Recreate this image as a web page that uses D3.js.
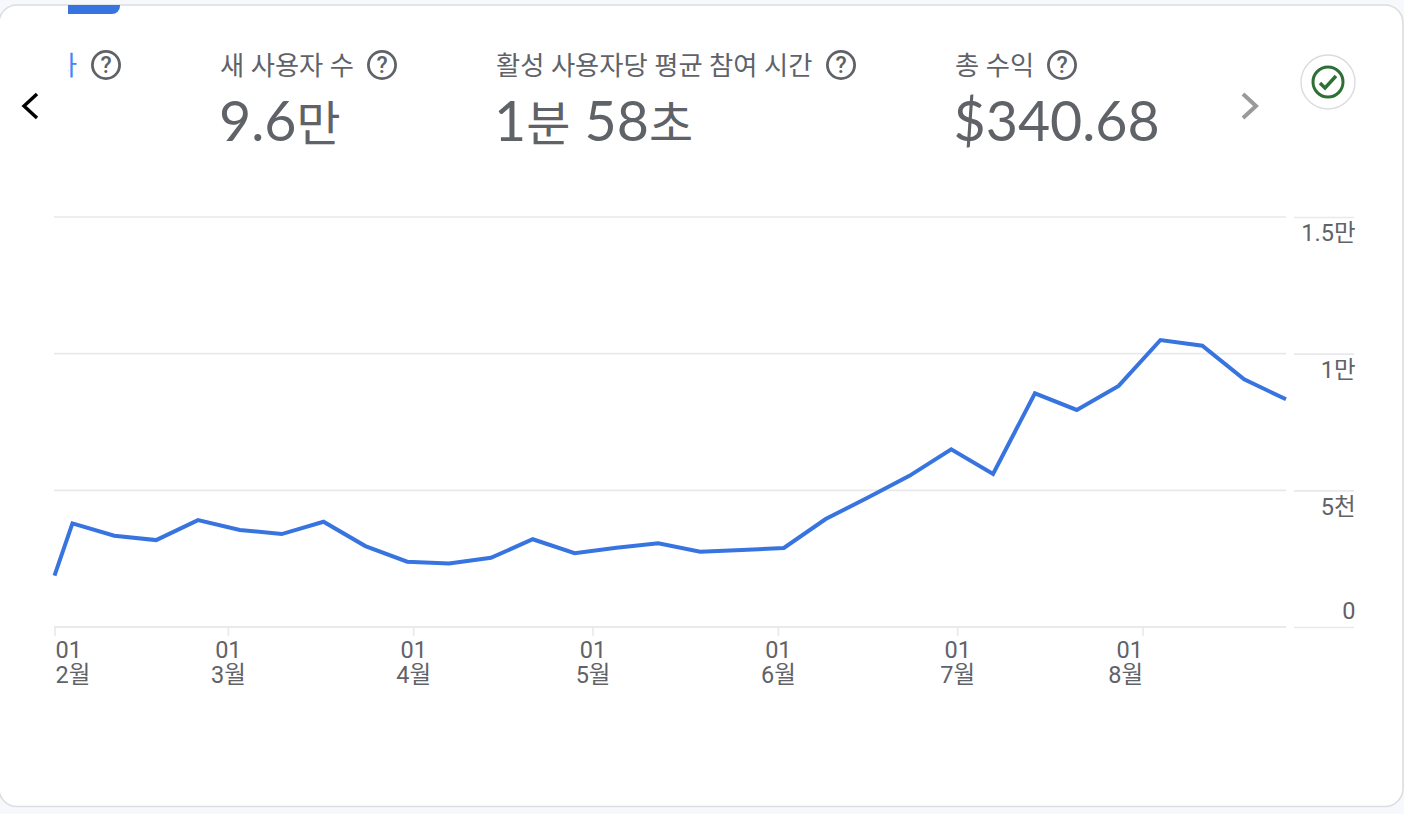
<!DOCTYPE html>
<html lang="ko">
<head>
<meta charset="utf-8">
<script src="https://cdnjs.cloudflare.com/ajax/libs/d3/7.8.5/d3.min.js"></script>
<style>
html,body{margin:0;padding:0;background:#f7f8fb;overflow:hidden}
svg{display:block}
text{font-family:Roboto,"Noto Sans CJK KR",sans-serif;fill:#5f6368}
.metric{font-family:Lato,"Noto Sans CJK KR",sans-serif}
.domain{display:none}
</style>
</head>
<body>
<svg id="c" width="1404" height="814"></svg>
<script>
// ---- data ----
const dates = ["2024-02-01","2024-02-04","2024-02-11","2024-02-18","2024-02-25","2024-03-03","2024-03-10","2024-03-17","2024-03-24","2024-03-31","2024-04-07","2024-04-14","2024-04-21","2024-04-28","2024-05-05","2024-05-12","2024-05-19","2024-05-26","2024-06-02","2024-06-09","2024-06-16","2024-06-23","2024-06-30","2024-07-07","2024-07-14","2024-07-21","2024-07-28","2024-08-04","2024-08-11","2024-08-18","2024-08-25"];
const users = [1880,3790,3340,3180,3910,3550,3400,3850,2960,2390,2320,2530,3210,2700,2900,3060,2750,2820,2890,3950,4730,5530,6500,5600,8550,7940,8820,10500,10290,9060,8330];
const yTickValues = [0,5000,10000,15000];
const yTickLabels = ["0","5천","1만","1.5만"];
const monthStarts = ["2024-02-01","2024-03-01","2024-04-01","2024-05-01","2024-06-01","2024-07-01","2024-08-01"];
const monthLabels = ["2월","3월","4월","5월","6월","7월","8월"];
const metricTitles = ["새 사용자 수","활성 사용자당 평균 참여 시간","총 수익"];
const metricValues = ["9.6만","1분 58초","$340.68"];
const clippedTitle = "활성 사용자";

// ---- layout ----
const svg = d3.select("#c");
const parse = d3.utcParse("%Y-%m-%d");
const x = d3.scaleUtc().domain([parse(dates[0]), parse(dates[dates.length-1])]).range([54.5,1286]);
const y = d3.scaleLinear().domain([0,15000]).range([627,217]);
const grey = "#5f6368", gridCol = "#e8e9eb";

// card
svg.append("rect").attr("x",-1).attr("y",5).attr("width",1404).attr("height",801.5).attr("rx",18)
  .attr("fill","#fff").attr("stroke","#dcdde1").attr("stroke-width",1.6);

// tab indicator
svg.append("path").attr("d","M68 5H120V6A8 8 0 0 1 112 14H68Z").attr("fill","#3874e0");

// metric header
svg.append("defs").append("clipPath").attr("id","tabclip").append("rect")
  .attr("x",68).attr("y",30).attr("width",60).attr("height",60);
svg.append("text").attr("clip-path","url(#tabclip)").attr("x",77).attr("y",75).attr("text-anchor","end")
  .attr("font-size",26.2).style("fill","#4285f4").text(clippedTitle);

const titleX = [220,496,955], valueX = [219,494,953.5], helpX = [382,841,1062];
svg.selectAll(".mt").data(metricTitles).join("text").attr("class","mt")
  .attr("x",(d,i)=>titleX[i]).attr("y",75).attr("font-size",26.3).text(d=>d);
svg.selectAll(".metric").data(metricValues).join("text").attr("class","metric")
  .attr("x",(d,i)=>valueX[i]).attr("y",141).attr("font-size",55.5)
  .each(function(d){
    const t = d3.select(this);
    (d.match(/[\uac00-\ud7a3]+|[^\uac00-\ud7a3]+/g)).forEach(run=>{
      t.append("tspan").attr("font-size",/[\uac00-\ud7a3]/.test(run)?48:null).attr("xml:space","preserve").text(run);
    });
  });

// help icons
[106,...helpX].forEach(cx=>{
  const g = svg.append("g").attr("transform",`translate(${cx},65)`);
  g.append("circle").attr("r",13.6).attr("fill","none").attr("stroke",grey).attr("stroke-width",2.8);
  g.append("text").attr("text-anchor","middle").attr("y",8).attr("font-size",23).attr("font-weight",500).text("?");
});

// chevrons
svg.append("path").attr("d","M37 94L24 106L37 118").attr("fill","none").attr("stroke","#000").attr("stroke-width",3.4);
svg.append("path").attr("d","M1243 94L1256 106L1243 118").attr("fill","none").attr("stroke","#9a9a9a").attr("stroke-width",4);

// status badge
const b = svg.append("g").attr("transform","translate(1328,82)");
b.append("circle").attr("r",27).attr("fill","#fff").attr("stroke","#dadce0").attr("stroke-width",1.4);
b.append("circle").attr("r",15).attr("fill","none").attr("stroke","#2e6f35").attr("stroke-width",3);
b.append("path").attr("d","M-8 1L-3 6L8 -6").attr("fill","none").attr("stroke","#2e6f35").attr("stroke-width",3.4);

// grid lines + y axis
svg.append("g").selectAll("line").data(yTickValues).join("line")
  .attr("x1",54).attr("x2",1286).attr("y1",d=>y(d)).attr("y2",d=>y(d))
  .attr("stroke",gridCol).attr("stroke-width",1.6);

const yAxis = d3.axisRight(y).tickValues(yTickValues).tickSize(60).tickPadding(0)
  .tickFormat((d,i)=>yTickLabels[i]);
const yg = svg.append("g").attr("transform","translate(1294,0)").call(yAxis);
yg.selectAll("line").attr("stroke",gridCol).attr("stroke-width",1.6);
yg.selectAll("text").attr("x",61.5).attr("text-anchor","end").attr("dy",null)
  .attr("y",d=>d===0?-9:(d===5000?24.5:23.5)).attr("font-size",23.5).style("fill",grey).style("font-family",'Roboto,"Noto Sans CJK KR",sans-serif');

// x axis
const xAxis = d3.axisBottom(x).tickValues(monthStarts.map(parse)).tickSize(9).tickPadding(0).tickFormat(()=>"");
const xg = svg.append("g").attr("transform","translate(0,627)").call(xAxis);
xg.selectAll("line").attr("stroke",gridCol).attr("stroke-width",1.6);
xg.selectAll("text").remove();
xg.selectAll(".tick").each(function(d,i){
  const first = i===0, last = i===monthStarts.length-1;
  const t = d3.select(this).append("text").attr("y",31).attr("font-size",23.5)
    .attr("text-anchor",first?"start":last?"end":"middle")
    .style("fill",grey).style("font-family",'Roboto,"Noto Sans CJK KR",sans-serif');
  const px = first?0.5:0;
  t.append("tspan").attr("x",px).text("01");
  t.append("tspan").attr("x",px).attr("dy",25).text(monthLabels[i]);
});
svg.append("line").attr("x1",54).attr("x2",1286).attr("y1",627).attr("y2",627).attr("stroke",gridCol).attr("stroke-width",1.6);

// line
const line = d3.line().x((d,i)=>x(parse(dates[i]))).y(d=>y(d));
svg.append("path").datum(users).attr("d",line).attr("fill","none")
  .attr("stroke","#3874e0").attr("stroke-width",4).attr("stroke-linejoin","miter");
</script>
</body>
</html>
